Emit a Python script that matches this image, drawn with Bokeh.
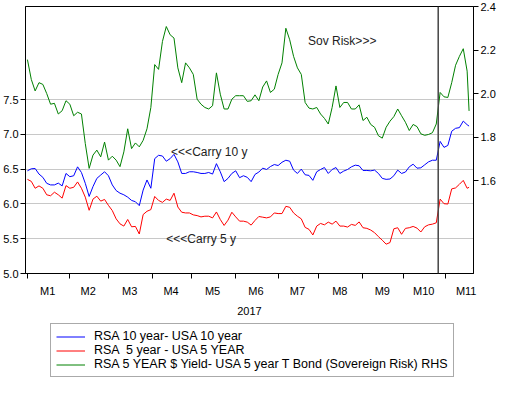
import numpy as np
import pandas as pd
from bokeh.plotting import figure
from bokeh.layouts import column
from bokeh.models import (Range1d, LinearAxis, FixedTicker, Span, Legend, LegendItem,
                          Label, ColumnDataSource, NumeralTickFormatter, CustomJSTickFormatter)
from bokeh.embed import file_html
from bokeh.resources import INLINE

# ---------------- data ----------------
month_labels = ["M1", "M2", "M3", "M4", "M5", "M6", "M7", "M8", "M9", "M10", "M11"]
year_label = "2017"
event_date = "2017-10-26"

left_ticks = [5.0, 5.5, 6.0, 6.5, 7.0, 7.5]
right_ticks = [1.6, 1.8, 2.0, 2.2, 2.4]

# observation index (business days from 2 Jan 2017), sampled every 2nd day
obs = list(range(0, 229, 2)) + [229]

rsa10 = [6.477, 6.506, 6.51, 6.43, 6.383, 6.297, 6.274, 6.274, 6.30, 6.26,
         6.439, 6.392, 6.406, 6.534, 6.453, 6.297, 6.108, 6.25, 6.368, 6.416,
         6.463, 6.406, 6.274, 6.193, 6.155, 6.132, 6.098, 6.051, 6.032, 5.976,
         6.2, 6.345, 6.226, 6.652, 6.7, 6.69, 6.615, 6.652, 6.714, 6.605,
         6.439, 6.439, 6.463, 6.463, 6.453, 6.439, 6.439, 6.453, 6.43, 6.58,
         6.463, 6.321, 6.368, 6.439, 6.477, 6.378, 6.406, 6.383, 6.321, 6.425,
         6.459, 6.515, 6.496, 6.538, 6.567, 6.553, 6.6, 6.629, 6.615, 6.487,
         6.439, 6.501, 6.42, 6.411, 6.34, 6.463, 6.496, 6.524, 6.439, 6.496,
         6.524, 6.439, 6.473, 6.496, 6.534, 6.558, 6.549, 6.482, 6.482, 6.477,
         6.487, 6.439, 6.368, 6.354, 6.359, 6.406, 6.487, 6.439, 6.459, 6.534,
         6.572, 6.515, 6.52, 6.563, 6.606, 6.629, 6.629, 6.9, 6.814, 6.842,
         7.046, 7.088, 7.098, 7.192, 7.14, 7.12]

rsa5 = [6.354, 6.325, 6.226, 6.26, 6.226, 6.132, 6.118, 6.169, 6.132, 6.084,
        6.264, 6.226, 6.24, 6.317, 6.226, 6.098, 5.909, 6.07, 6.112, 6.041,
        6.065, 5.98, 5.905, 5.786, 5.714, 5.682, 5.777, 5.672, 5.677, 5.568,
        5.848, 5.895, 5.919, 6.108, 6.051, 6.023, 6.07, 6.051, 6.155, 5.956,
        5.881, 5.871, 5.871, 5.843, 5.833, 5.814, 5.824, 5.824, 5.8, 5.885,
        5.777, 5.691, 5.767, 5.881, 5.814, 5.753, 5.753, 5.739, 5.696, 5.763,
        5.82, 5.81, 5.8, 5.814, 5.871, 5.862, 5.862, 5.966, 5.952, 5.871,
        5.824, 5.786, 5.663, 5.635, 5.554, 5.682, 5.72, 5.7, 5.739, 5.71,
        5.753, 5.682, 5.682, 5.668, 5.706, 5.692, 5.742, 5.658, 5.649, 5.625,
        5.587, 5.53, 5.479, 5.422, 5.445, 5.643, 5.658, 5.564, 5.649, 5.658,
        5.677, 5.653, 5.597, 5.672, 5.7, 5.71, 5.729, 6.07, 6.004, 5.999,
        6.217, 6.231, 6.283, 6.339, 6.226, 6.24]

sov = [2.156, 2.065, 2.012, 2.05, 2.042, 2.0, 1.951, 1.955, 1.906, 1.921,
       1.967, 1.951, 1.898, 1.914, 1.906, 1.77, 1.656, 1.717, 1.74, 1.709,
       1.777, 1.694, 1.712, 1.694, 1.664, 1.732, 1.838, 1.747, 1.773, 1.755,
       1.785, 1.838, 1.936, 2.133, 2.111, 2.239, 2.308, 2.27, 2.255, 2.118,
       2.05, 2.141, 2.118, 2.088, 1.974, 1.951, 1.936, 1.929, 1.944, 2.095,
       1.997, 1.929, 1.929, 1.974, 1.99, 1.99, 1.99, 1.964, 1.967, 1.994,
       1.967, 2.03, 2.058, 2.005, 2.02, 2.088, 2.141, 2.3, 2.247, 2.171,
       2.118, 2.088, 1.959, 1.933, 1.929, 1.936, 1.906, 1.886, 1.86, 1.936,
       2.035, 1.936, 1.959, 1.959, 1.929, 1.929, 1.948, 1.876, 1.891, 1.858,
       1.845, 1.806, 1.795, 1.845, 1.873, 1.894, 1.929, 1.898, 1.868, 1.83,
       1.858, 1.848, 1.815, 1.808, 1.812, 1.82, 1.86, 2.005, 1.985, 1.982,
       2.05, 2.13, 2.171, 2.206, 2.103, 1.92]

series_labels = ["RSA 10 year- USA 10 year",
                 "RSA  5 year - USA 5 YEAR",
                 "RSA 5 YEAR $ Yield- USA 5 year T Bond (Sovereign Risk) RHS"]
series_colors = ["#0000ff", "#ff0000", "#008000"]

# ---------------- calendar / ticks ----------------
cal = pd.bdate_range("2017-01-02", "2017-11-30")
month_idx = np.asarray(cal.month)
month_start = [int(np.argmax(month_idx == m)) for m in range(1, 12)]
month_mid = [float(np.mean(np.where(month_idx == m)[0])) for m in range(1, 12)]
event_obs = int(cal.get_loc(pd.Timestamp(event_date)))

FONT = "Liberation Sans"

src = ColumnDataSource(dict(x=obs, rsa10=rsa10, rsa5=rsa5, sov=sov))

p = figure(width=498, height=317, x_range=Range1d(-1, 231.3), y_range=Range1d(5.0, 8.84),
           output_backend="svg", toolbar_location=None,
           min_border_top=6, min_border_left=0, min_border_right=0, min_border_bottom=40)
p.extra_y_ranges = {"rhs": Range1d(1.173, 2.4)}
p.background_fill_color = "white"
p.border_fill_color = "white"
p.outline_line_color = "black"
p.outline_line_width = 1

# left axis
ly = p.yaxis[0]
ly.ticker = FixedTicker(ticks=left_ticks)
ly.formatter = NumeralTickFormatter(format="0.0")
ly.major_tick_out = 5
ly.major_tick_in = 0
ly.minor_tick_out = 0
ly.minor_tick_in = 0
ly.major_label_standoff = 2
ly.axis_line_color = "black"
ly.major_tick_line_color = "black"
ly.major_label_text_font = FONT
ly.major_label_text_font_size = "11px"
ly.major_label_text_color = "black"

# right axis
ry = LinearAxis(y_range_name="rhs", ticker=FixedTicker(ticks=right_ticks),
                formatter=NumeralTickFormatter(format="0.0"))
ry.major_tick_out = 5
ry.major_tick_in = 0
ry.minor_tick_out = 0
ry.minor_tick_in = 0
ry.major_label_standoff = 2
ry.axis_line_color = "black"
ry.major_label_text_font = FONT
ry.major_label_text_font_size = "11px"
ry.major_label_text_color = "black"
p.add_layout(ry, "right")

# x axis
xa = p.xaxis[0]
xa.ticker = FixedTicker(ticks=month_mid, minor_ticks=month_start)
xa.formatter = CustomJSTickFormatter(args=dict(mids=month_mid, labs=month_labels), code="""
    const i = mids.findIndex(t => Math.abs(t - tick) < 1e-6);
    return i >= 0 ? labs[i] : "";
""")
xa.major_tick_out = 0
xa.major_tick_in = 0
xa.minor_tick_out = 5
xa.minor_tick_in = 0
xa.minor_tick_line_color = "black"
xa.major_label_standoff = 6
xa.axis_line_color = "black"
xa.major_label_text_font = FONT
xa.major_label_text_font_size = "11px"
xa.major_label_text_color = "black"
xa.axis_label = year_label
xa.axis_label_text_font = FONT
xa.axis_label_text_font_size = "11px"
xa.axis_label_text_font_style = "normal"
xa.axis_label_text_color = "black"
xa.axis_label_standoff = 7

p.xgrid.visible = False
p.ygrid.ticker = FixedTicker(ticks=left_ticks)
p.ygrid.grid_line_color = "#c8c8c8"
p.ygrid.grid_line_width = 1

p.line("x", "rsa10", source=src, line_color=series_colors[0], line_width=1)
p.line("x", "rsa5", source=src, line_color=series_colors[1], line_width=1)
p.line("x", "sov", source=src, line_color=series_colors[2], line_width=1, y_range_name="rhs")

p.add_layout(Span(location=event_obs, dimension="height", line_color="#444444", line_width=1.5))

for txt, x, y in [("Sov Risk>>>", 145.5, 8.34),
                  ("<<<Carry 10 y", 74.5, 6.75),
                  ("<<<Carry 5 y", 72.0, 5.49)]:
    p.add_layout(Label(x=x, y=y, text=txt, text_font=FONT, text_font_size="12px",
                       text_baseline="middle", text_align="left", text_color="#222222"))

# ---------------- legend strip ----------------
p2 = figure(width=498, height=61, x_range=Range1d(1000, 1001), y_range=Range1d(0, 1),
            output_backend="svg", toolbar_location=None,
            x_axis_location=None, y_axis_location=None, min_border=0)
p2.outline_line_color = None
p2.grid.visible = False
p2.background_fill_color = "white"
p2.border_fill_color = "white"
items = []
for lab, col, ys in zip(series_labels, series_colors, [rsa10, rsa5, sov]):
    # single-point stand-in renderer (draws nothing; provides the legend swatch)
    r = p2.line(x=[obs[0]], y=[ys[0]], line_color=col, line_width=1)
    items.append(LegendItem(label=lab, renderers=[r]))

legend = Legend(items=items, location=(25, 1), orientation="vertical")
legend.label_text_font = FONT
legend.label_text_font_size = "12.5px"
legend.label_text_color = "black"
legend.label_height = 13
legend.glyph_height = 13
legend.glyph_width = 29
legend.label_standoff = 9
legend.spacing = 0
legend.padding = 5
legend.margin = 0
legend.border_line_color = "#555555"
legend.border_line_width = 1
legend.background_fill_alpha = 1
p2.add_layout(legend, "center")

layout = column(p, p2, spacing=0)
open("out.html", "w").write(file_html(layout, INLINE))
